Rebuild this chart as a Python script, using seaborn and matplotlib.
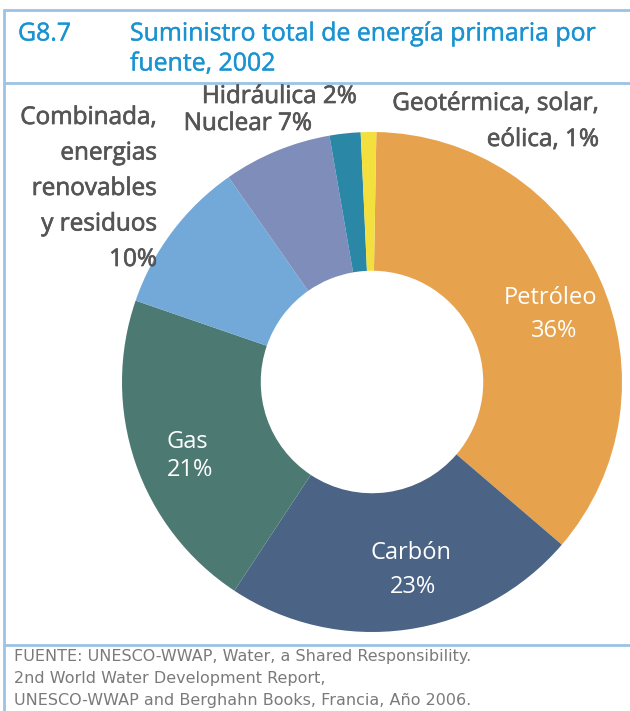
import matplotlib
matplotlib.use("Agg")
import matplotlib.pyplot as plt
import matplotlib.patheffects as pe
import seaborn as sns

sns.set_theme(style="white")
plt.rcParams["font.family"] = ["Open Sans", "DejaVu Sans"]

# Primary energy supply by source, 2002 (percent of total)
sources = ["Petróleo", "Carbón", "Gas", "Combinada", "Nuclear", "Hidráulica", "Geotérmica"]
shares = [36, 23, 21, 10, 7, 2, 1]
colors = ["#E6A24C", "#4B6384", "#4C7A73", "#72A9D9", "#7E8DB9", "#2B87A6", "#F3E03E"]

W, H = 630, 711
fig = plt.figure(figsize=(W / 100, H / 100), dpi=100)

# Donut: centre (372, 382) px, outer radius 250 px
cx, cy, r = 372, 382, 250
ax = fig.add_axes([(cx - r) / W, (H - cy - r) / H, 2 * r / W, 2 * r / H])
ax.pie(shares, colors=colors, startangle=89, counterclock=False,
       wedgeprops=dict(width=0.555, linewidth=0), radius=1)
ax.set_xlim(-1, 1)
ax.set_ylim(-1, 1)
ax.set_aspect("equal")
ax.axis("off")

# Overlay in pixel coordinates for frame and text
ov = fig.add_axes([0, 0, 1, 1], facecolor="none")
ov.set_xlim(0, W)
ov.set_ylim(H, 0)
ov.axis("off")

frame = "#9CC3E6"
ov.plot([4, W], [10, 10], color=frame, lw=2)
ov.plot([4, W], [83, 83], color=frame, lw=2)
ov.plot([4, W], [645, 645], color=frame, lw=2)
ov.plot([4, 4], [10, H], color=frame, lw=2)

blue = "#1A93D1"
ttl = dict(color=blue, fontsize=17.9, va="center", ha="left",
           path_effects=[pe.withStroke(linewidth=0.3, foreground=blue)])
ov.text(18, 34, "G8.7", **ttl)
ov.text(130, 34, "Suministro total de energía primaria por", **ttl)
ov.text(130, 64, "fuente, 2002", **ttl)

grey = "#555555"
lab = dict(color=grey, fontsize=17.5, va="center",
           path_effects=[pe.withStroke(linewidth=0.5, foreground=grey)])
p = dict(zip(sources, shares))
ov.text(357, 97, f"Hidráulica {p['Hidráulica']}%", ha="right", **lab)
ov.text(312, 124, f"Nuclear {p['Nuclear']}%", ha="right", **lab)
ov.text(599, 104, "Geotérmica, solar,", ha="right", **lab)
ov.text(599, 140, f"eólica, {p['Geotérmica']}%", ha="right", **lab)
for i, line in enumerate(["Combinada,", "energias", "renovables", "y residuos",
                          f"{p['Combinada']}%"]):
    ov.text(157, 118 + 35.5 * i, line, ha="right", **lab)

inner = dict(color="white", fontsize=17, va="center", ha="center")
ov.text(551, 298, "Petróleo", **inner)
ov.text(554, 331, f"{p['Petróleo']}%", **inner)
ov.text(187, 442, "Gas", **inner)
ov.text(190, 470, f"{p['Gas']}%", **inner)
ov.text(411, 553, "Carbón", **inner)
ov.text(413, 587, f"{p['Carbón']}%", **inner)

foot = dict(color="#7A7A7A", fontsize=11.5, va="center", ha="left",
            family=["DejaVu Sans"])
ov.text(14, 657, "FUENTE: UNESCO-WWAP, Water, a Shared Responsibility.", **foot)
ov.text(14, 679, "2nd World Water Development Report,", **foot)
ov.text(14, 701, "UNESCO-WWAP and Berghahn Books, Francia, Año 2006.", **foot)

fig.savefig("out.png", dpi=100)
